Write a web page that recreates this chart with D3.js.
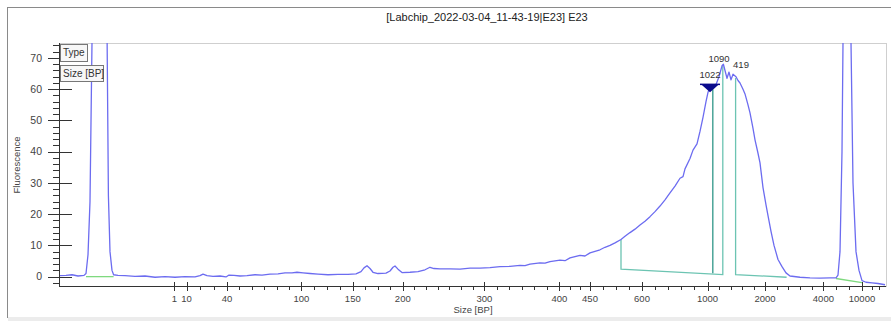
<!DOCTYPE html>
<html><head><meta charset="utf-8">
<script src="https://cdn.jsdelivr.net/npm/d3@7"></script>
<style>
html,body{margin:0;padding:0;background:#fff;}
svg{display:block;font-family:"Liberation Sans",Arial,sans-serif;}
</style></head>
<body>
<svg id="chart" width="891" height="321"></svg>
<script>
const chartTitle = "[Labchip_2022-03-04_11-43-19|E23] E23";
const yTitle = "Fluorescence";
const xTitle = "Size [BP]";
const legendItems = ["Type", "Size [BP]"];

// ladder: size labels and their migration times (s)
const ladderSizes = ["1","10","40","100","150","200","300","400","450","600","1000","2000","4000","10000"];
const ladderTimes = [15.77,16.38,18.40,22.12,24.69,27.19,31.27,35.02,36.55,39.15,42.43,45.30,48.22,50.15];
const minorCounts = [0,2,5,3,3,6,5,2,3,4,4,4,2];
const trailingMinorTimes = [50.65,51.0];

const yTicks = [0,10,20,30,40,50,60,70];
const yMinorTicks = [-2,2,4,6,8,12,14,16,18,22,24,26,28,32,34,36,38,42,44,46,48,52,54,56,58,62,64,66,68,72,74];

// electropherogram signal
const sigTime = [10.00,10.35,10.65,10.95,11.25,11.35,11.45,11.55,11.65,11.75,11.90,12.05,12.20,12.35,12.40,12.47,12.55,12.65,12.73,12.95,13.30,13.80,14.30,14.80,15.30,15.80,16.30,16.80,17.05,17.20,17.40,17.70,18.05,18.35,18.50,18.75,19.05,19.40,19.80,20.15,20.55,20.95,21.30,21.65,21.90,22.20,22.55,22.95,23.45,23.95,24.45,24.85,25.10,25.25,25.40,25.55,25.70,25.95,26.35,26.55,26.70,26.80,26.95,27.15,27.55,27.95,28.30,28.55,28.75,29.05,29.55,30.05,30.55,31.05,31.55,32.05,32.55,33.05,33.30,33.55,34.05,34.30,34.55,35.05,35.30,35.55,36.05,36.30,36.55,37.05,37.30,37.55,37.80,38.10,38.30,38.55,38.80,39.05,39.30,39.55,39.80,40.05,40.30,40.55,40.80,41.05,41.20,41.30,41.55,41.70,41.90,42.05,42.20,42.35,42.45,42.55,42.65,42.75,42.85,43.00,43.15,43.22,43.30,43.40,43.50,43.60,43.70,43.85,43.95,44.05,44.20,44.30,44.45,44.55,44.70,44.80,44.95,45.05,45.20,45.35,45.45,45.60,45.75,45.95,46.15,46.35,46.55,47.05,47.55,48.05,48.55,48.85,48.95,49.05,49.15,49.20,49.30,49.40,49.50,49.60,49.70,49.85,50.00,50.15,50.35,50.65,50.95,51.30];
const sigValue = [0.3,0.4,0.6,0.2,0.4,1.0,7,24,75,190,420,500,400,190,80,26,8,2,0.6,0.4,0.3,0.1,0.2,-0.2,0.0,-0.2,0.0,-0.1,0.3,0.8,0.3,0.1,0.2,-0.1,0.5,0.4,0.2,0.3,0.6,0.5,0.8,0.9,1.2,1.2,1.4,1.2,1.0,0.8,0.6,0.7,0.7,0.9,1.6,2.8,3.5,2.6,1.4,1.0,1.1,1.8,3.0,3.4,2.4,1.3,1.4,1.6,2.2,3.0,2.6,2.5,2.5,2.4,2.7,2.7,2.9,3.2,3.3,3.6,3.5,4.0,4.4,4.3,4.8,5.3,5.1,6.0,6.8,6.6,7.6,8.6,9.4,10.0,10.8,11.9,12.9,14.1,15.2,16.5,17.7,19.2,20.8,22.6,24.6,26.8,29.0,31.5,32.0,34.5,37.8,40.5,42.5,46.5,51,56,59,60.5,61,60.5,61.5,64,67.5,68,66,63.5,65.5,63,64.8,64,62.8,62,60,58.5,55,52.4,47.5,43.8,39.5,36.4,28.5,23,19.5,14.5,10,5.5,3.2,1.2,0.2,-0.2,-0.4,-0.5,-0.4,-0.4,0.5,8,40,75,250,380,250,75,30,8,2,-1.3,-1.8,-2.0,-2.2,-2.6];

// marker baselines (green)
const markerBaseTime = [[11.35,12.73],[48.85,50.15]];
const markerBaseValue = [[0.0,0.0],[-0.6,-1.9]];

// smear regions (teal): start/end time, top values, baseline values
const regionStart = [38.10, 43.83];
const regionEnd = [43.19, 46.38];
const regionStartTop = [11.9, 63.6];
const regionEndTop = [67.7, -0.2];
const regionBaseStart = [2.4, 0.65];
const regionBaseEnd = [0.65, -0.2];

// called peak
const peakTime = 42.69, peakTop = 60, peakBase = 1.1;
const peakMarkTime = 42.55, peakMarkValue = 59;

// peak labels
const peakLabels = ["1022","1090","419"];
const peakLabelTime = [42.55, 43.00, 44.10];
const peakLabelValue = [63.5, 68.6, 66.8];

const svg = d3.select("#chart");
const L = 59, R = 886, T = 43, B = 286;
const x = d3.scaleLinear().domain([10, 51.35]).range([L, R]);
const y = d3.scaleLinear().domain([-3, 74.8]).range([B, T]);

// outer frame
svg.append("line").attr("x1",7.5).attr("x2",7.5).attr("y1",7).attr("y2",318).attr("stroke","#8a8a8a");
svg.append("line").attr("x1",7).attr("x2",891).attr("y1",7.5).attr("y2",7.5).attr("stroke","#8a8a8a");
svg.append("rect").attr("x",8).attr("y",317).attr("width",883).attr("height",4).attr("fill","#ececec");

// title
svg.append("text").attr("x",487).attr("y",21).attr("text-anchor","middle")
  .attr("font-size",11).attr("fill","#222").text(chartTitle);

// plot frame
svg.append("rect").attr("x",L+0.5).attr("y",T+0.5).attr("width",R-L).attr("height",B-T)
  .attr("fill","none").attr("stroke","#cfcfcf");

// clip
svg.append("clipPath").attr("id","clip").append("rect")
  .attr("x",L).attr("y",T).attr("width",R-L).attr("height",B-T);

const g = svg.append("g").attr("clip-path","url(#clip)");

// green marker baselines
markerBaseTime.forEach((tt,i)=>{
  g.append("line").attr("x1",x(tt[0])).attr("x2",x(tt[1]))
   .attr("y1",y(markerBaseValue[i][0])).attr("y2",y(markerBaseValue[i][1]))
   .attr("stroke","#7fd97f").attr("stroke-width",1.3);
});

// teal regions
const teal = "#6cc4b2";
regionStart.forEach((s,i)=>{
  const e = regionEnd[i];
  const pts = [[s,regionStartTop[i]],[s,regionBaseStart[i]],[e,regionBaseEnd[i]],[e,regionEndTop[i]]];
  g.append("path").attr("d", d3.line().x(d=>x(d[0])).y(d=>y(d[1]))(pts))
   .attr("fill","none").attr("stroke",teal).attr("stroke-width",1.3);
});
g.append("line").attr("x1",x(peakTime)).attr("x2",x(peakTime))
  .attr("y1",y(peakTop)).attr("y2",y(peakBase)).attr("stroke","#3f9e91").attr("stroke-width",1.4);

// signal
const sig = sigTime.map((t,i)=>[t,sigValue[i]]);
g.append("path").attr("d", d3.line().x(d=>x(d[0])).y(d=>y(d[1]))(sig))
  .attr("fill","none").attr("stroke","#6c6cf0").attr("stroke-width",1.3).attr("stroke-linejoin","round");

// peak marker triangle
{
  const px = x(peakMarkTime), py = y(peakMarkValue);
  svg.append("path").attr("d",`M${px-9},${py-8}L${px+9},${py-8}L${px},${py}Z`).attr("fill","#0a0a8c");
  svg.append("line").attr("x1",px-10).attr("x2",px+10).attr("y1",py-8).attr("y2",py-8).attr("stroke","#0a0a8c").attr("stroke-width",1.5);
}

// peak labels
peakLabels.forEach((s,i)=>{
  svg.append("text").attr("x",x(peakLabelTime[i])).attr("y",y(peakLabelValue[i]))
    .attr("text-anchor","middle").attr("font-size",9.5).attr("fill","#333").text(s);
});

// y axis
const yAxis = svg.append("g").attr("stroke","#333");
yAxis.append("line").attr("x1",L+0.5).attr("x2",L+0.5).attr("y1",T).attr("y2",B).attr("stroke","#333");
yTicks.forEach(v=>{
  yAxis.append("line").attr("x1",L-11).attr("x2",L+13).attr("y1",Math.round(y(v))+0.5).attr("y2",Math.round(y(v))+0.5);
  svg.append("text").attr("x",L-17).attr("y",y(v)).attr("dy","0.35em").attr("text-anchor","end")
     .attr("font-size",10.5).attr("fill","#444").text(v);
});
yMinorTicks.forEach(v=>{
  yAxis.append("line").attr("x1",L-6).attr("x2",L).attr("y1",Math.round(y(v))+0.5).attr("y2",Math.round(y(v))+0.5);
});
svg.append("text").attr("transform",`translate(20,${(T+B)/2+0.5}) rotate(-90)`).attr("text-anchor","middle")
  .attr("font-size",9.5).attr("fill","#444").text(yTitle);

// x axis
const xAxis = svg.append("g").attr("stroke","#333");
xAxis.append("line").attr("x1",L).attr("x2",R).attr("y1",B+0.5).attr("y2",B+0.5);
ladderTimes.forEach((t,i)=>{
  const px = Math.round(x(t))+0.5;
  xAxis.append("line").attr("x1",px).attr("x2",px).attr("y1",B-4).attr("y2",B+5);
  svg.append("text").attr("x",x(t)).attr("y",B+16).attr("text-anchor","middle")
    .attr("font-size",9.5).attr("fill","#444").text(ladderSizes[i]);
  if (i < ladderTimes.length-1) {
    const n = minorCounts[i], t1 = ladderTimes[i+1];
    for (let k=1;k<=n;k++){
      const mx = Math.round(x(t + (t1-t)*k/(n+1)))+0.5;
      xAxis.append("line").attr("x1",mx).attr("x2",mx).attr("y1",B).attr("y2",B+4);
    }
  }
});
trailingMinorTimes.forEach(t=>{
  const mx = Math.round(x(t))+0.5;
  xAxis.append("line").attr("x1",mx).attr("x2",mx).attr("y1",B).attr("y2",B+4);
});
svg.append("text").attr("x",473).attr("y",313).attr("text-anchor","middle")
  .attr("font-size",9.5).attr("fill","#444").text(xTitle);

// legend boxes
const boxes = [[L+1,T+1,27,17],[L+1,T+22,43,16]];
legendItems.forEach((s,i)=>{
  const b = boxes[i];
  svg.append("rect").attr("x",b[0]+0.5).attr("y",b[1]+0.5).attr("width",b[2]).attr("height",b[3])
    .attr("fill","#f7f7f7").attr("stroke","#777");
  svg.append("text").attr("x",b[0]+3).attr("y",b[1]+b[3]/2).attr("dy","0.35em")
    .attr("font-size",10).attr("fill","#333").text(s);
});
</script>
</body></html>
